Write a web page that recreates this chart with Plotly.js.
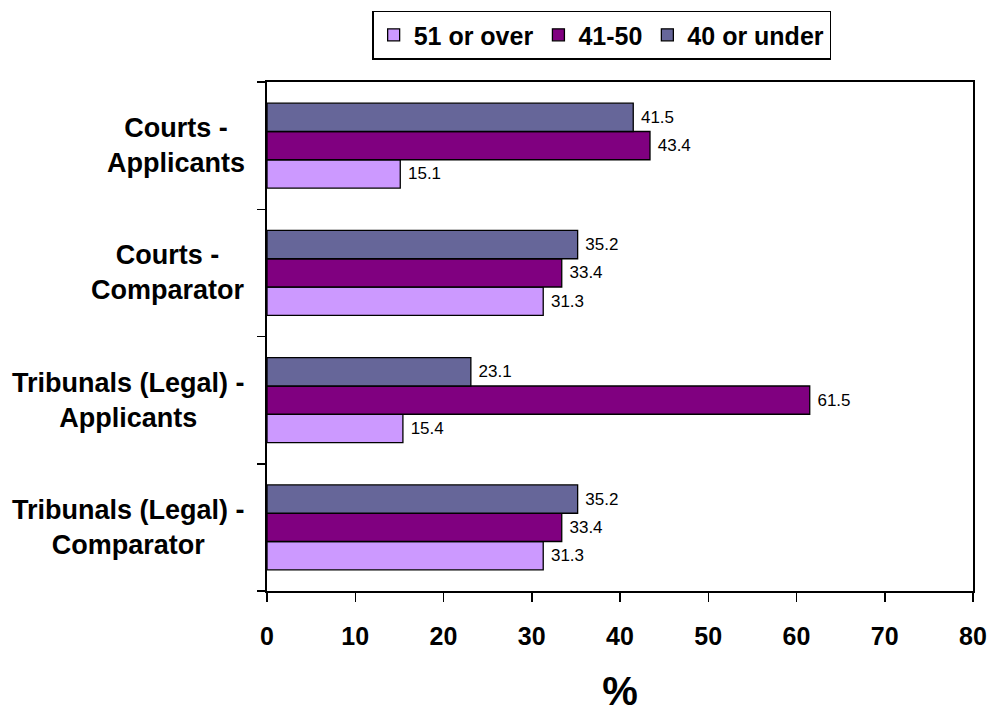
<!DOCTYPE html>
<html>
<head>
<meta charset="utf-8">
<script src="https://cdn.plot.ly/plotly-3.0.1.min.js"></script>
<style>html,body{margin:0;padding:0;background:#fff;}#chart{width:992px;height:715px;}</style>
</head>
<body>
<div id="chart"></div>
<script>
// Categories, top to bottom as shown
var categories = [
  "Courts -<br>Applicants",
  "Courts -<br>Comparator",
  "Tribunals (Legal) -<br>Applicants",
  "Tribunals (Legal) -<br>Comparator"
];
var seriesNames = ["51 or over", "41-50", "40 or under"];
var over51  = [15.1, 31.3, 15.4, 31.3];
var age4150 = [43.4, 33.4, 61.5, 33.4];
var under40 = [41.5, 35.2, 23.1, 35.2];
var seriesColors = ["#CC99FF", "#800080", "#666699"];
var xTicks = [0, 10, 20, 30, 40, 50, 60, 70, 80];

var FONT = "Liberation Sans, Arial, sans-serif";
var allValues = [over51, age4150, under40];

var traces = allValues.map(function (vals, i) {
  return {
    type: "bar",
    orientation: "h",
    name: seriesNames[i],
    x: vals,
    y: categories,
    marker: { color: seriesColors[i], line: { color: "#000", width: 1.3 } },
    text: vals.map(function (v) { return "\u00a0" + v.toFixed(1); }),
    textposition: "outside",
    textfont: { family: FONT, size: 17, color: "#000" },
    cliponaxis: false,
    hoverinfo: "x+name"
  };
});

var annotations = categories.map(function (c) {
  return {
    xref: "paper", yref: "y", x: 0, y: c,
    xanchor: "right", yanchor: "middle", xshift: -20,
    align: "center", text: "<b>" + c + "</b>", showarrow: false,
    font: { family: FONT, size: 27, color: "#000" }
  };
});

var layout = {
  width: 992, height: 715,
  margin: { l: 267, r: 19, t: 81, b: 124 },
  paper_bgcolor: "#fff", plot_bgcolor: "#fff",
  barmode: "group", bargap: 0.333, bargroupgap: 0,
  showlegend: true,
  legend: {
    orientation: "h", x: 0.474, xanchor: "center", y: 1.138, yanchor: "top",
    bordercolor: "#000", borderwidth: 1.5, bgcolor: "#fff",
    font: { family: FONT, size: 25, color: "#000", weight: "bold" },
    traceorder: "normal"
  },
  xaxis: {
    range: [0, 80], tickvals: xTicks, ticktext: xTicks.map(function (t) { return "<b>" + t + "</b>"; }),
    ticks: "outside", ticklen: 9, tickwidth: 1.5, tickcolor: "#000",
    ticklabelstandoff: 13,
    showline: true, linecolor: "#000", linewidth: 2, mirror: true,
    showgrid: false, zeroline: false,
    tickfont: { family: FONT, size: 25, color: "#000" },
    title: { text: "<b>%</b>", font: { family: FONT, size: 40, color: "#000" }, standoff: 28 }
  },
  yaxis: {
    type: "category", categoryorder: "array", categoryarray: categories.slice().reverse(),
    tickson: "boundaries", ticks: "outside", ticklen: 8, tickwidth: 1.5, tickcolor: "#000",
    showticklabels: false,
    showline: true, linecolor: "#000", linewidth: 2, mirror: true,
    showgrid: false, zeroline: false
  },
  annotations: annotations
};

Plotly.newPlot("chart", traces, layout, { displayModeBar: false, staticPlot: true });
</script>
</body>
</html>
